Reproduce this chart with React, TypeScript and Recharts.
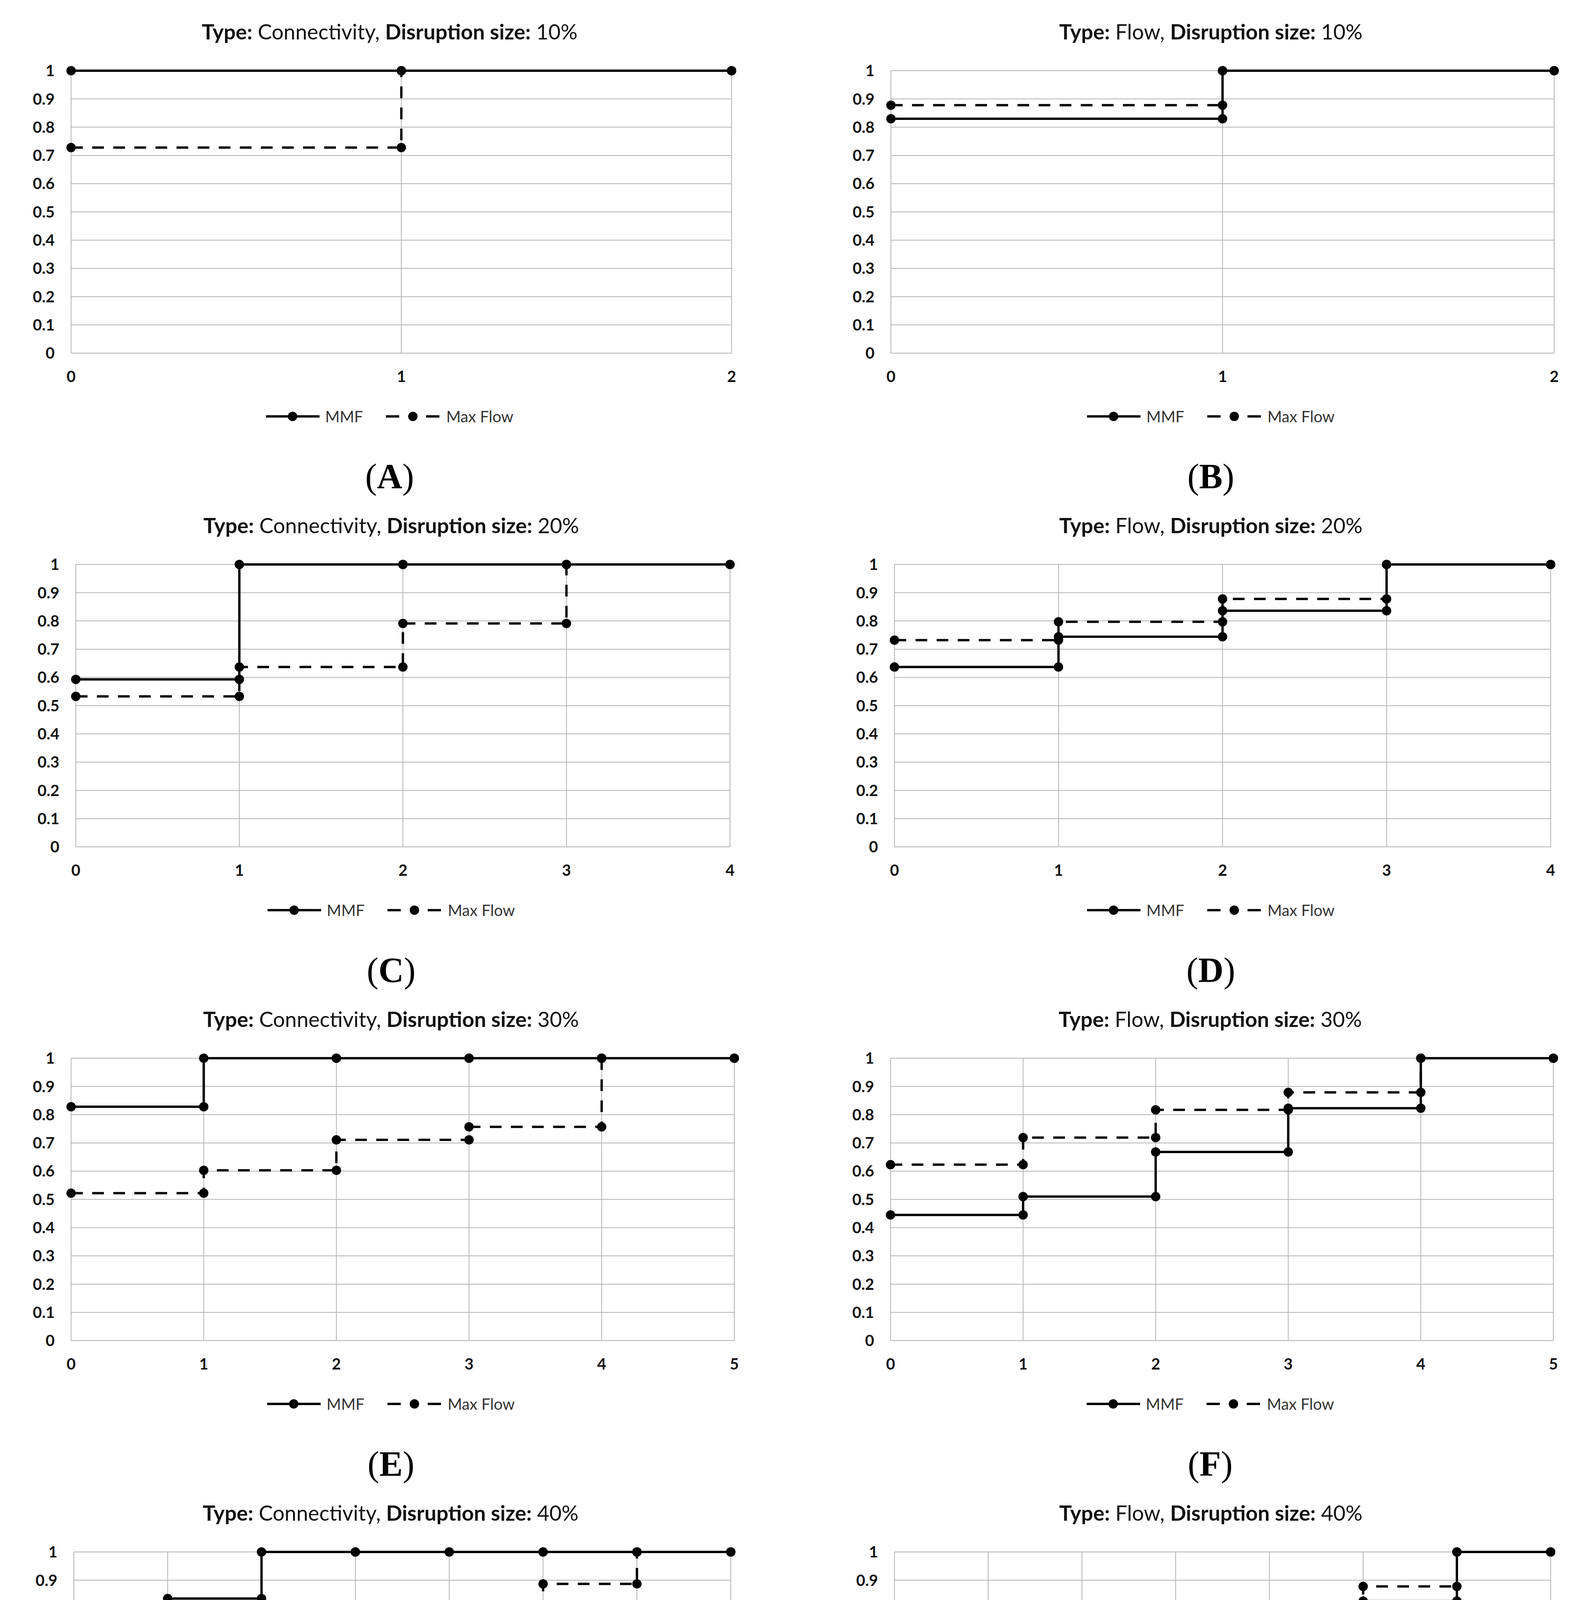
import { LineChart, Line, CartesianGrid, XAxis, YAxis } from 'recharts';

const FONT = 'Lato, "Open Sans", sans-serif';
const SERIF = '"Liberation Serif", "DejaVu Serif", serif';

// y axis ticks shared by all panels
const yTicks = [0, 0.1, 0.2, 0.3, 0.4, 0.5, 0.6, 0.7, 0.8, 0.9, 1];

// step levels per interval [k, k+1]
const mmfA = [1, 1];
const maxFlowA = [0.728, 1];
const mmfB = [0.83, 1];
const maxFlowB = [0.878, 1];
const mmfC = [0.593, 1, 1, 1];
const maxFlowC = [0.533, 0.637, 0.791, 1];
const mmfD = [0.637, 0.744, 0.836, 1];
const maxFlowD = [0.732, 0.797, 0.878, 1];
const mmfE = [0.828, 1, 1, 1, 1];
const maxFlowE = [0.522, 0.603, 0.711, 0.757, 1];
const mmfF = [0.445, 0.51, 0.668, 0.823, 1];
const maxFlowF = [0.623, 0.719, 0.817, 0.879, 1];
const fairG = [0.56, 0.835, 1, 1, 1, 1, 1];
const maxFlowG = [0.431, 0.569, 0.598, 0.643, 0.798, 0.887, 1];
const fairH = [0.209, 0.291, 0.36, 0.513, 0.667, 0.826, 1];
const maxFlowH = [0.418, 0.541, 0.64, 0.727, 0.798, 0.878, 1];

const panelLabels = ['A', 'B', 'C', 'D', 'E', 'F', 'G', 'H'];
const panelTypes = ['Connectivity', 'Flow', 'Connectivity', 'Flow', 'Connectivity', 'Flow', 'Connectivity', 'Flow'];
const panelSizes = ['10%', '10%', '20%', '20%', '30%', '30%', '40%', '40%'];
const firstNames = ['MMF', 'MMF', 'MMF', 'MMF', 'MMF', 'MMF', 'Fair', 'Fair'];
const secondName = 'Max Flow';
const firstSeries = [mmfA, mmfB, mmfC, mmfD, mmfE, mmfF, fairG, fairH];
const secondSeries = [maxFlowA, maxFlowB, maxFlowC, maxFlowD, maxFlowE, maxFlowF, maxFlowG, maxFlowH];

// plot boxes on the page [left, right, top, bottom]
const boxes = [
  [182, 1873, 181, 904],
  [2281, 3979, 181, 904],
  [194, 1869, 1445, 2168],
  [2290, 3970, 1445, 2168],
  [182, 1880, 2709, 3432],
  [2280, 3977, 2709, 3432],
  [189, 1871, 3973, 4696],
  [2290, 3970, 3973, 4696],
];

// each level gives a point at both ends of its interval
function stepPoints(levels: number[]) {
  const pts: { x: number; y: number }[] = [];
  levels.forEach((v, i) => {
    pts.push({ x: i, y: v });
    pts.push({ x: i + 1, y: v });
  });
  return pts;
}

const Y_W = 182;
const M_TOP = 40;
const M_RIGHT = 60;
const X_H = 120;

function SolidIcon() {
  return (
    <svg width={137} height={30} style={{ display: 'block' }}>
      <line x1={0} y1={15} x2={137} y2={15} stroke="#000" strokeWidth={6} />
      <circle cx={68} cy={15} r={12} fill="#000" />
    </svg>
  );
}

function DashedIcon() {
  return (
    <svg width={137} height={30} style={{ display: 'block' }}>
      <line x1={0} y1={15} x2={34} y2={15} stroke="#000" strokeWidth={6} />
      <line x1={103} y1={15} x2={137} y2={15} stroke="#000" strokeWidth={6} />
      <circle cx={69} cy={15} r={12} fill="#000" />
    </svg>
  );
}

function Panel({ idx }: { idx: number }) {
  const [L, R, T, B] = boxes[idx];
  const n = firstSeries[idx].length;
  const xTicks = Array.from({ length: n + 1 }, (_, i) => i);
  const w = R - L + Y_W + M_RIGHT;
  const h = M_TOP + (B - T) + X_H;
  const cx = (L + R) / 2 - 30;
  const tickStyle = { fontFamily: FONT, fontSize: 40, fontWeight: 700, fill: '#111' };
  return (
    <>
      <div
        style={{
          position: 'absolute', left: cx - 1000, width: 2000, top: T - 135, height: 70,
          lineHeight: '70px', textAlign: 'center', fontFamily: FONT, fontSize: 54, color: '#111', whiteSpace: 'nowrap',
        }}
      >
        <b>Type:</b> {panelTypes[idx]}, <b>Disruption size:</b> {panelSizes[idx]}
      </div>
      <div style={{ position: 'absolute', left: L - Y_W, top: T - M_TOP }}>
        <LineChart width={w} height={h} margin={{ top: M_TOP, right: M_RIGHT, bottom: 0, left: 0 }}>
          <CartesianGrid stroke="#b3b3b3" strokeWidth={2} />
          <XAxis
            dataKey="x"
            type="number"
            domain={[0, n]}
            ticks={xTicks}
            interval={0}
            height={X_H}
            axisLine={false}
            tickLine={false}
            tickSize={0}
            tickMargin={46}
            tick={tickStyle}
          />
          <YAxis
            type="number"
            domain={[0, 1]}
            ticks={yTicks}
            interval={0}
            width={Y_W}
            axisLine={false}
            tickLine={false}
            tickSize={0}
            tickMargin={42}
            tick={tickStyle}
            tickFormatter={(v) => String(v)}
          />
          <Line
            data={stepPoints(firstSeries[idx])}
            dataKey="y"
            name={firstNames[idx]}
            type="linear"
            stroke="#000"
            strokeWidth={6}
            dot={{ r: 12, fill: '#000', stroke: 'none' }}
            isAnimationActive={false}
          />
          <Line
            data={stepPoints(secondSeries[idx])}
            dataKey="y"
            name={secondName}
            type="linear"
            stroke="#000"
            strokeWidth={6}
            strokeDasharray="30 24"
            dot={{ r: 12, fill: '#000', stroke: 'none', strokeDasharray: 'none' }}
            isAnimationActive={false}
          />
        </LineChart>
      </div>
      <div
        style={{
          position: 'absolute', left: cx - 1000, width: 2000, top: T + 885 - 30, height: 60,
          display: 'flex', justifyContent: 'center', alignItems: 'center',
          fontFamily: FONT, fontSize: 40, color: '#333',
        }}
      >
        <SolidIcon />
        <span style={{ marginLeft: 15, marginRight: 59 }}>{firstNames[idx]}</span>
        <DashedIcon />
        <span style={{ marginLeft: 17 }}>{secondName}</span>
      </div>
      <div
        style={{
          position: 'absolute', left: cx - 200, width: 400, top: T + 1039 - 60, height: 120,
          lineHeight: '120px', textAlign: 'center', fontFamily: SERIF, fontSize: 90, color: '#000',
        }}
      >
        (<b>{panelLabels[idx]}</b>)
      </div>
    </>
  );
}

export default function App() {
  return (
    <div style={{ position: 'absolute', left: 0, top: 0, width: 4058, height: 5088, background: '#fff' }}>
      {panelLabels.map((_, i) => (
        <Panel key={i} idx={i} />
      ))}
    </div>
  );
}
